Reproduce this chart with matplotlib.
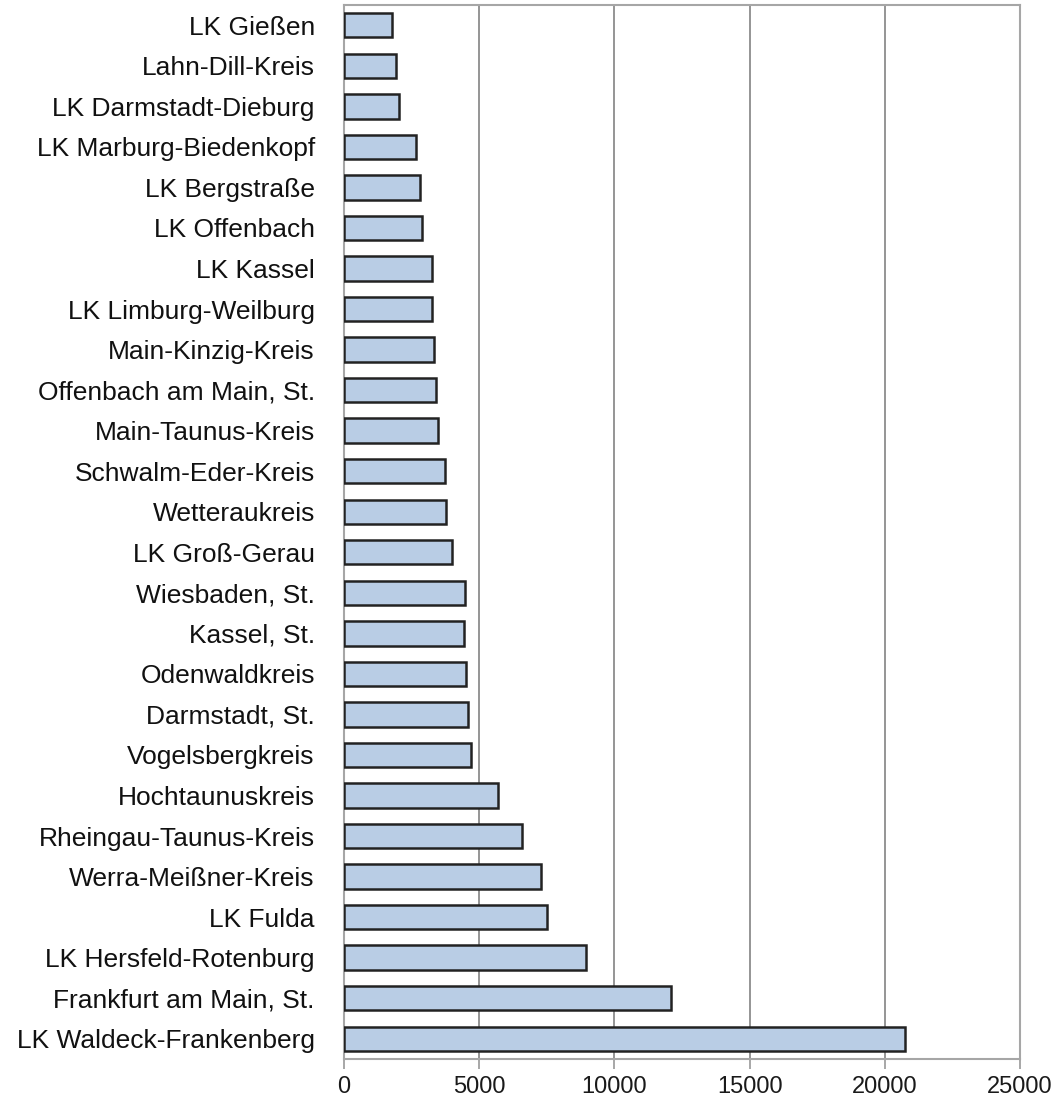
import matplotlib

matplotlib.use("Agg")
import matplotlib.pyplot as plt

# Kreise in Hessen, von oben nach unten wie im Original
kreise = [
    "LK Gießen",
    "Lahn-Dill-Kreis",
    "LK Darmstadt-Dieburg",
    "LK Marburg-Biedenkopf",
    "LK Bergstraße",
    "LK Offenbach",
    "LK Kassel",
    "LK Limburg-Weilburg",
    "Main-Kinzig-Kreis",
    "Offenbach am Main, St.",
    "Main-Taunus-Kreis",
    "Schwalm-Eder-Kreis",
    "Wetteraukreis",
    "LK Groß-Gerau",
    "Wiesbaden, St.",
    "Kassel, St.",
    "Odenwaldkreis",
    "Darmstadt, St.",
    "Vogelsbergkreis",
    "Hochtaunuskreis",
    "Rheingau-Taunus-Kreis",
    "Werra-Meißner-Kreis",
    "LK Fulda",
    "LK Hersfeld-Rotenburg",
    "Frankfurt am Main, St.",
    "LK Waldeck-Frankenberg",
]
werte = [
    1780, 1930, 2020, 2670, 2820, 2900, 3270, 3250, 3340, 3410, 3490, 3720,
    3790, 4000, 4460, 4450, 4530, 4600, 4680, 5710, 6600, 7280, 7495, 8965,
    12080, 20740,
]
x_ticks = [0, 5000, 10000, 15000, 20000, 25000]

plt.rcParams["font.family"] = ["Liberation Sans", "DejaVu Sans"]

fig = plt.figure(figsize=(10.6, 11.02), dpi=100)
ax = fig.add_axes([344 / 1060, 1 - 1059 / 1102, (1020 - 344) / 1060, (1059 - 5) / 1102])

positions = list(range(len(kreise)))
ax.barh(
    positions,
    werte,
    height=0.6,
    color="#B9CDE5",
    edgecolor="#222222",
    linewidth=1.8,
    zorder=3,
)

ax.set_xlim(0, 25000)
ax.set_ylim(len(kreise) - 0.5, -0.5)
ax.set_xticks(x_ticks)
ax.set_xticklabels([str(t) for t in x_ticks], fontsize=17, color="#1a1a1a")
ax.set_yticks(positions)
ax.set_yticklabels(kreise, fontsize=19, color="#111111")
ax.tick_params(axis="y", length=0, pad=21)
ax.tick_params(axis="x", length=7, width=1.3, color="#a0a0a0", pad=5)

ax.grid(axis="x", color="#8c8c8c", linewidth=1.3, zorder=0)
ax.set_axisbelow(True)
for spine in ax.spines.values():
    spine.set_color("#a6a6a6")
    spine.set_linewidth(1.5)

fig.savefig("out.png", dpi=100)
